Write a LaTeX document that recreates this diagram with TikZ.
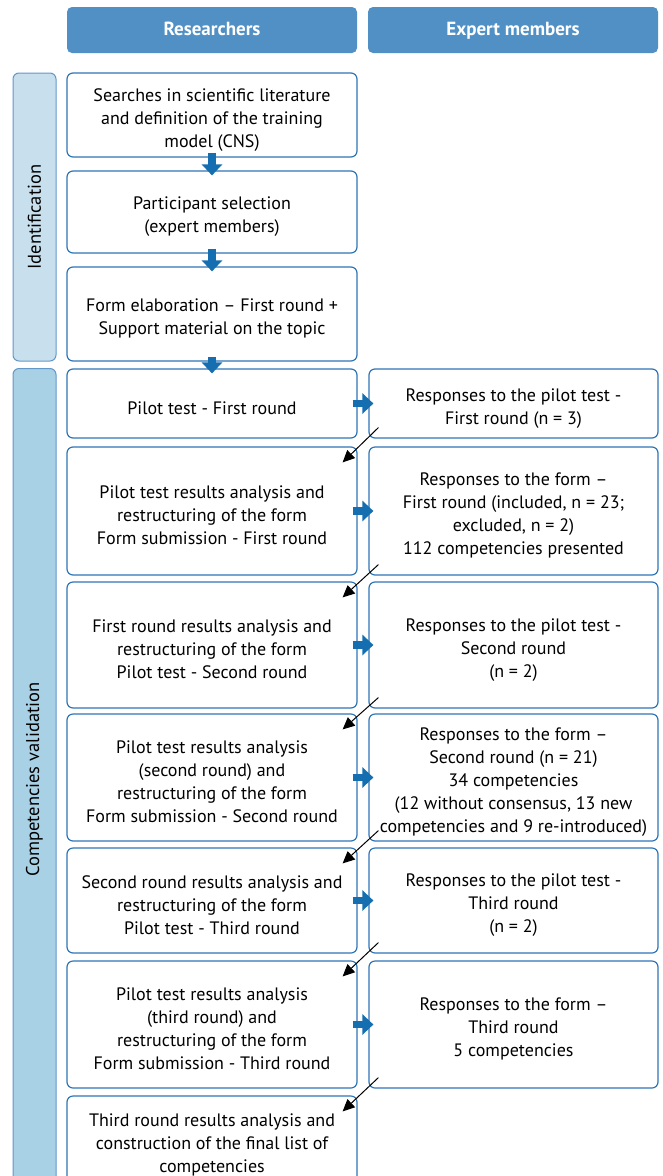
\documentclass[tikz,border=0pt]{standalone}
\usepackage{fontspec}
\setmainfont{PT Sans}
\usetikzlibrary{calc}
\usetikzlibrary{arrows.meta}
\definecolor{colorHead}{RGB}{80,144,196}
\definecolor{colorBox}{RGB}{46,117,182}
\definecolor{colorIdent}{RGB}{200,224,238}
\definecolor{colorValid}{RGB}{169,209,229}
\definecolor{colorFlow}{RGB}{21,110,175}
\tikzset{
   head/.style={rectangle,rounded corners=5pt,fill=colorHead,text=white,font=\fontsize{19}{23}\selectfont\bfseries,text height=13pt,text depth=3pt,minimum width=290pt,minimum height=46pt},
   stage/.style={rectangle,rounded corners=6pt,draw=colorBox!75,fill=#1,line width=1pt,rotate=90,minimum height=43pt,font=\fontsize{18.5}{23}\selectfont},
   task/.style={rectangle,rounded corners=6pt,draw=colorBox,line width=1.2pt,align=center,minimum width=#1,font=\fontsize{18}{23}\selectfont,inner sep=2pt},
   task/.default=290pt,
   flow/.style={-{Triangle[length=11pt,width=20pt]},color=colorFlow,line width=7.5pt,shorten >=-5pt,shorten <=-5pt},
   next/.style={-{Triangle[length=12pt,width=11pt]},line width=1pt},
}
% extra room above the first line, so the text sits a little low
\newcommand{\toproom}{\rule{0pt}{22pt}}

\begin{document}
\begin{tikzpicture}[x=1pt,y=-1pt]
        \useasboundingbox (0,0) rectangle (662,1176);

        \node[head] (hres) at (212,  30) {Researchers};
        \node[head] (hexp) at (513,  30) {Expert members};

        \node[stage=colorIdent, minimum width=288pt] (ident) at (34.5, 217) {Identification};
        \node[stage=colorValid, minimum width=822pt] (valid) at (34.5, 779.5) {Competencies validation};

        % researchers
        \node[task, minimum height=84pt]  (l1)  at (212,  115) {\toproom Searches in scientific literature\\and definition of the training\\model (CNS)};
        \node[task, minimum height=82pt]  (l2)  at (212,  212) {\toproom Participant selection\\(expert members)};
        \node[task, minimum height=94pt]  (l3)  at (212,  314) {\toproom Form elaboration – First round +\\Support material on the topic};
        \node[task, minimum height=69pt]  (l4)  at (212,  403.5) {\toproom Pilot test - First round};
        \node[task, minimum height=128pt] (l5)  at (212,  511) {\toproom Pilot test results analysis and\\restructuring of the form\\Form submission - First round};
        \node[task, minimum height=126pt] (l6)  at (212,  645) {\toproom First round results analysis and\\restructuring of the form\\Pilot test - Second round};
        \node[task, minimum height=127pt] (l7)  at (212,  777.5) {\toproom Pilot test results analysis\\(second round) and\\restructuring of the form\\Form submission - Second round};
        \node[task, minimum height=105pt] (l8)  at (212,  900.5) {\toproom Second round results analysis and\\restructuring of the form\\Pilot test - Third round};
        \node[task, minimum height=127pt] (l9)  at (212, 1024.5) {\toproom Pilot test results analysis\\(third round) and\\restructuring of the form\\Form submission - Third round};
        \node[task, minimum height=88pt]  (l10) at (212, 1140) {\toproom Third round results analysis and\\construction of the final list of\\competencies};

        % experts
        \node[task=289pt, minimum height=69pt]  (r1) at (513.5,  403.5) {\toproom Responses to the pilot test -\\First round (n = 3)};
        \node[task=289pt, minimum height=128pt] (r2) at (513.5,  511) {\toproom Responses to the form –\\First round (included, n = 23;\\excluded, n = 2)\\112 competencies presented};
        \node[task=289pt, minimum height=126pt] (r3) at (513.5,  645) {\toproom Responses to the pilot test -\\Second round\\(n = 2)};
        \node[task=289pt, minimum height=127pt] (r4) at (513.5,  777.5) {\toproom Responses to the form –\\Second round (n = 21)\\34 competencies\\(12 without consensus, 13 new\\competencies and 9 re-introduced)};
        \node[task=289pt, minimum height=105pt] (r5) at (513.5,  900.5) {\toproom Responses to the pilot test -\\Third round\\(n = 2)};
        \node[task=289pt, minimum height=127pt] (r6) at (513.5, 1024.5) {\toproom Responses to the form –\\Third round\\5 competencies};

        \draw[flow] (l1.south) -- (l2.north);
        \draw[flow] (l2.south) -- (l3.north);
        \draw[flow] (l3.south) -- (l4.north);

        \draw[flow] (l4.east) -- (r1.west);
        \draw[flow] (l5.east) -- (r2.west);
        \draw[flow] (l6.east) -- (r3.west);
        \draw[flow] (l7.east) -- (r4.west);
        \draw[flow] (l8.east) -- (r5.west);
        \draw[flow] (l9.east) -- (r6.west);

        \draw[next] ($(r1.south west)+(10pt,11pt)$) -- ($(l5.north east)+(-15pt,-16pt)$);
        \draw[next] ($(r2.south west)+(10pt,11pt)$) -- ($(l6.north east)+(-15pt,-16pt)$);
        \draw[next] ($(r3.south west)+(10pt,11pt)$) -- ($(l7.north east)+(-15pt,-16pt)$);
        \draw[next] ($(r4.south west)+(10pt,11pt)$) -- ($(l8.north east)+(-15pt,-16pt)$);
        \draw[next] ($(r5.south west)+(10pt,11pt)$) -- ($(l9.north east)+(-15pt,-16pt)$);
        \draw[next] ($(r6.south west)+(10pt,11pt)$) -- ($(l10.north east)+(-15pt,-16pt)$);
\end{tikzpicture}
\end{document}
